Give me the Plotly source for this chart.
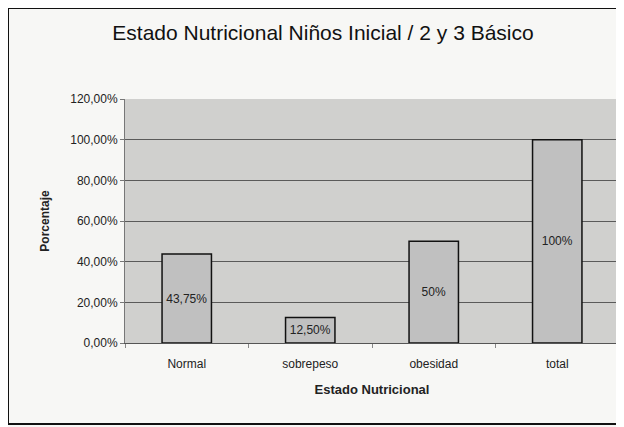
import plotly.graph_objects as go

categories = ["Normal", "sobrepeso", "obesidad", "total"]
values = [0.4375, 0.125, 0.50, 1.00]
labels = ["43,75%", "12,50%", "50%", "100%"]
y_ticks = [0, 0.2, 0.4, 0.6, 0.8, 1.0, 1.2]

# page is offset by the 8px body margin
OFF = 8
W, H = 624, 427
L, R, T, B = 125 - OFF, 13, 99 - OFF, 92
pw, ph = W - L - R, H - T - B

fig = go.Figure(go.Bar(
    x=categories, y=values, text=labels,
    textposition="inside", insidetextanchor="middle",
    textfont=dict(family="Liberation Sans, Arial", size=12, color="#222"),
    marker=dict(color="#c0c0c0", line=dict(color="#111", width=1.5)),
    width=0.4, cliponaxis=False,
))

fig.update_layout(
    width=W, height=H,
    margin=dict(l=L, r=R, t=T, b=B),
    paper_bgcolor="#f7f7f5",
    plot_bgcolor="#d0d0ce",
    separators=",.",
    showlegend=False,
    font=dict(family="Liberation Sans, Arial", color="#222"),
    title=dict(text="Estado Nutricional Niños Inicial / 2 y 3 Básico",
               x=(323 - OFF) / W, xanchor="center", y=1 - (33 - OFF) / H, yanchor="middle",
               font=dict(size=21, color="#111")),
    xaxis=dict(
        tickfont=dict(size=12), ticks="outside", ticklen=4, tickcolor="#888",
        tickson="boundaries", ticklabelstandoff=10,
        showline=True, linecolor="#555", linewidth=1,
        title=dict(text="Estado Nutricional", font=dict(size=13, weight="bold"), standoff=14),
        showgrid=False,
    ),
    yaxis=dict(
        range=[0, 1.2], tickvals=y_ticks, tickformat=".2%",
        tickfont=dict(size=12), ticks="outside", ticklen=4, tickcolor="#777",
        showline=True, linecolor="#777", linewidth=1,
        gridcolor="#5a5a5a", gridwidth=1,
        title=dict(text="Porcentaje", font=dict(size=12, weight="bold"), standoff=18),
        zeroline=False,
    ),
    shapes=[dict(type="rect", xref="paper", yref="paper",
                 x0=(0 - L) / pw, x1=(640 - L) / pw,
                 y0=(H - B - 416) / ph, y1=(H - B - 0) / ph,
                 line=dict(color="#111", width=2), fillcolor="rgba(0,0,0,0)",
                 layer="below")],
)

fig.write_html("out.html")
